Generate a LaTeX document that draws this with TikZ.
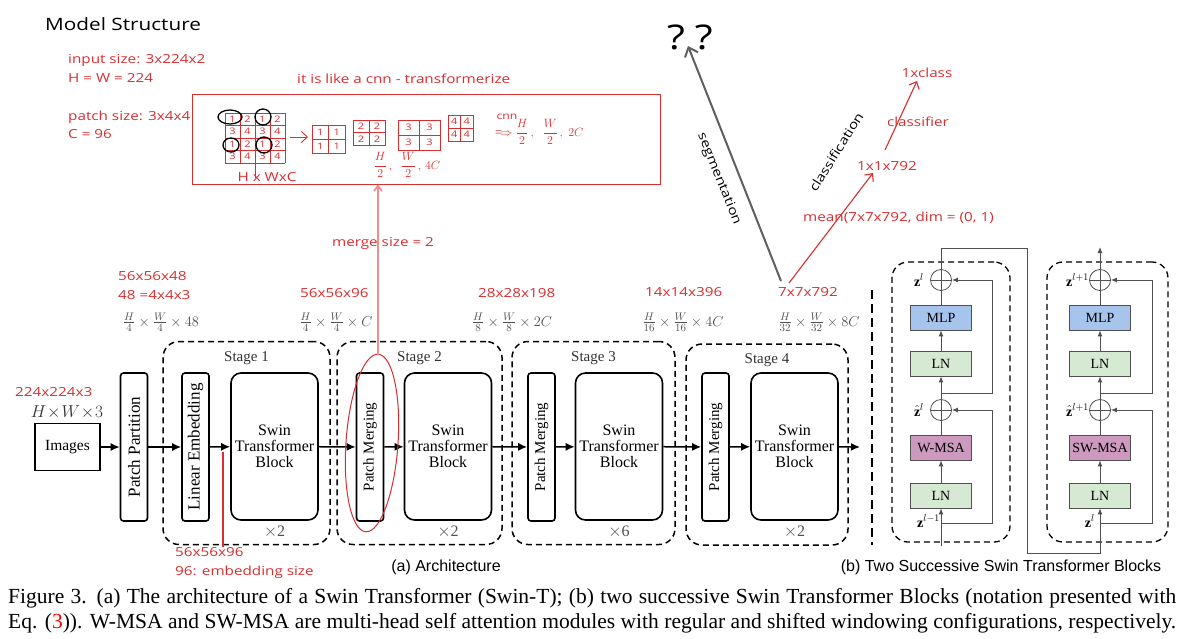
\documentclass[tikz,border=0pt]{standalone}
\usepackage{amsmath}
\usepackage{fontspec}
\setmainfont{Liberation Serif}
\newfontfamily\handfont{Open Sans}[FakeStretch=1.22]
\newfontfamily\arialfont{Liberation Sans}
\usepackage{color}
\usepackage{graphicx}
\usepackage{tikz}
\usetikzlibrary{arrows.meta,positioning}

\definecolor{pen}{RGB}{216,46,48}
\definecolor{pale}{RGB}{236,140,140}
\definecolor{mlpblue}{RGB}{167,196,236}
\definecolor{lngreen}{RGB}{214,233,211}
\definecolor{msapink}{RGB}{205,153,190}
\definecolor{dimgray}{RGB}{80,80,80}
\definecolor{seggray}{RGB}{95,95,95}

\newcommand{\fsz}[1]{\fontsize{#1}{#1}\selectfont}

\tikzset{
  tall/.style={draw, line width=1.6pt, rounded corners=3pt, minimum width=27pt, minimum height=148pt, inner sep=0pt},
  swin/.style={draw, line width=1.6pt, rounded corners=10pt, minimum width=87pt, minimum height=147pt, align=center, font=\fsz{16}},
  stage/.style={draw, line width=1.5pt, dash pattern=on 6pt off 4pt, rounded corners=16pt},
  arr/.style={line width=1.5pt, -{Latex[length=9pt,width=8pt]}},
  hand/.style={text=pen, font={\handfont\fsz{12.5}}, inner sep=0pt},
  note/.style={pen, line width=0.9pt},
  barb/.style={-{Straight Barb[length=6pt,width=11pt]}},
  dims/.style={text=dimgray, font=\fsz{15}, inner sep=0pt},
  sub/.style={draw=dimgray, line width=0.8pt, minimum width=61pt, minimum height=25pt, inner sep=0pt, font=\fsz{14}},
  oplus/.style={circle, draw=dimgray, line width=0.8pt, minimum size=21pt, inner sep=0pt,
    path picture={\draw[dimgray, line width=0.8pt] (path picture bounding box.north) -- (path picture bounding box.south) (path picture bounding box.west) -- (path picture bounding box.east);}},
  flow/.style={dimgray, line width=0.9pt},
  tip/.style={flow, -{Latex[length=6pt,width=5pt]}},
  zlab/.style={font=\fsz{14}, inner sep=0pt},
}

\begin{document}
\begin{tikzpicture}[x=1pt,y=-1pt]
\useasboundingbox (0,0) rectangle (1191,638);
\fill[white] (0,0) rectangle (1191,638);

% (a) architecture
\node[draw, line width=1.6pt, minimum width=65pt, minimum height=47pt, font=\fsz{15.5}] (img) at (67.5,447) {Images};
\node[tall, font=\fsz{17}] (pp) at (134,447) {\rotatebox{90}{Patch Partition}};

\node[stage, minimum width=167pt, minimum height=203pt] (st1) at (246.5,443) {};
\node[stage, minimum width=165pt, minimum height=203pt] (st2) at (419.5,443) {};
\node[stage, minimum width=163pt, minimum height=203pt] (st3) at (593.5,443) {};
\node[stage, minimum width=162pt, minimum height=201pt] (st4) at (767,444.5) {};

\node[tall, font=\fsz{17}] (le) at (195.5,447) {\rotatebox{90}{Linear Embedding}};
\node[swin] (sw1) at (274.5,446.5) {Swin\\Transformer\\Block};
\node[tall, font=\fsz{15}] (pm2) at (370,447) {\rotatebox{90}{Patch Merging}};
\node[swin] (sw2) at (448,446.5) {Swin\\Transformer\\Block};
\node[tall, font=\fsz{15}] (pm3) at (541.5,447) {\rotatebox{90}{Patch Merging}};
\node[swin] (sw3) at (619,446.5) {Swin\\Transformer\\Block};
\node[tall, font=\fsz{15}] (pm4) at (715.5,447) {\rotatebox{90}{Patch Merging}};
\node[swin] (sw4) at (794.5,446.5) {Swin\\Transformer\\Block};
\coordinate (out) at (860,447);

\foreach \a/\b in {img/pp, pp/le, le/sw1, sw1/pm2, pm2/sw2, sw2/pm3, pm3/sw3, sw3/pm4, pm4/sw4, sw4/out}
  \draw[arr] (\a) -- (\b);

% stage titles and repeats
\foreach \s/\b/\n/\r in {st1/sw1/1/2, st2/sw2/2/2, st3/sw3/3/6, st4/sw4/4/2} {
  \node[font=\fsz{15}, text=black!80, below=7pt of \s.north] (title\n) {Stage \n};
  \node[font=\fsz{16}, text=dimgray, below=2pt of \b.south] (rep\n) {$\times$\r};
}

% sizes
\node[dims, font=\fsz{17}, text=black!80] (d0) at (67,412) {$H\!\times\! W\!\times\! 3$};
\node[dims] (d1) at (161,322) {$\frac{H}{4}\times\frac{W}{4}\times 48$};
\node[dims] (d2) at (336,322) {$\frac{H}{4}\times\frac{W}{4}\times C$};
\node[dims] (d3) at (512,322) {$\frac{H}{8}\times\frac{W}{8}\times 2C$};
\node[dims] (d4) at (683,322) {$\frac{H}{16}\times\frac{W}{16}\times 4C$};
\node[dims] (d5) at (819,322) {$\frac{H}{32}\times\frac{W}{32}\times 8C$};

\draw[line width=2.6pt, dash pattern=on 9pt off 5pt] (872,290) -- (872,545);

\node[font=\arialfont\fsz{16}] (capa) at (446,567) {(a) Architecture};
\node[font=\arialfont\fsz{16}] (capb) at (1001,567) {(b) Two Successive Swin Transformer Blocks};

% (b) two successive blocks
\node[stage, line width=1.3pt, minimum width=118pt, minimum height=280pt] (bA) at (951,402) {};
\node[stage, line width=1.3pt, minimum width=121pt, minimum height=280pt] (bB) at (1107.5,402) {};

\node[sub, fill=lngreen] (lnA1) at (941,495.5) {LN};
\node[sub, fill=msapink] (msaA) at (941,447.5) {W-MSA};
\node[oplus] (addA1) at (941,410) {};
\node[sub, fill=lngreen] (lnA2) at (941,363.5) {LN};
\node[sub, fill=mlpblue] (mlpA) at (941,317.5) {MLP};
\node[oplus] (addA2) at (941,280) {};

\node[sub, fill=lngreen] (lnB1) at (1100,495.5) {LN};
\node[sub, fill=msapink] (msaB) at (1100,447.5) {SW-MSA};
\node[oplus] (addB1) at (1100,410) {};
\node[sub, fill=lngreen] (lnB2) at (1100,363.5) {LN};
\node[sub, fill=mlpblue] (mlpB) at (1100,317.5) {MLP};
\node[oplus] (addB2) at (1100,280) {};

\coordinate (inA) at (941,546);
\coordinate (rA1) at (941,523);
\coordinate (rA2) at (941,393);
\coordinate (rB1) at (1100,523);
\coordinate (rB2) at (1100,393);
\coordinate (outB) at (1100,247);

\draw[tip] (inA) -- (lnA1);
\draw[tip] (lnA1) -- (msaA);
\draw[flow] (msaA) -- (addA1);
\draw[tip] (addA1) -- (lnA2);
\draw[tip] (lnA2) -- (mlpA);
\draw[flow] (mlpA) -- (addA2);
\draw[tip] (rA1) -- ++(51,0) |- (addA1);
\draw[tip] (rA2) -- ++(51,0) |- (addA2);
\draw[tip] (addA2) |- (1027,248) |- (1100,553) -- (lnB1);

\draw[tip] (lnB1) -- (msaB);
\draw[flow] (msaB) -- (addB1);
\draw[tip] (addB1) -- (lnB2);
\draw[tip] (lnB2) -- (mlpB);
\draw[flow] (mlpB) -- (addB2);
\draw[tip] (rB1) -- ++(52,0) |- (addB1);
\draw[tip] (rB2) -- ++(52,0) |- (addB2);
\draw[tip] (addB2) -- (outB);

\node[zlab, left=6pt of addA2] (zA2) {$\mathbf{z}^{l}$};
\node[zlab, left=6pt of addA1] (zA1) {$\hat{\mathbf{z}}^{l}$};
\node[zlab, anchor=east] (zA0) at (940,521) {$\mathbf{z}^{l-1}$};
\node[zlab, left=0pt of addB2] (zB2) {$\mathbf{z}^{l+1}$};
\node[zlab, left=0pt of addB1] (zB1) {$\hat{\mathbf{z}}^{l+1}$};
\node[zlab, anchor=east] (zB0) at (1095,521) {$\mathbf{z}^{l}$};

% handwritten notes
\node[font={\handfont\fsz{17}}, anchor=west, inner sep=0pt] (head) at (45,24) {Model Structure};
\node[hand, anchor=west] (insz) at (68,60) {input size: 3x224x2};
\node[hand, anchor=west] (hw) at (68,78) {H = W = 224};
\node[hand, anchor=west] (psz) at (68,117) {patch size: 3x4x4};
\node[hand, anchor=west] (cc) at (68,134) {C = 96};
\node[hand, anchor=west] (like) at (297,79) {it is like a cnn - transformerize};
\node[draw=pen, line width=0.9pt, minimum width=468pt, minimum height=90pt, inner sep=0pt] (sketch) at (426,139) {};

% 4x4 patches
\foreach \i in {0,...,4} {
  \draw[note] (225+15*\i,113) -- (225+15*\i,163);
  \draw[note] (225,113+12.5*\i) -- (285,113+12.5*\i);
}
\draw[note] (255,163) -- (255,178);
\foreach \r in {0,...,3}
  \foreach \c in {0,...,3} {
    \pgfmathtruncatemacro\n{1+mod(\c,2)+2*mod(\r,2)}
    \node[hand, font={\handfont\fsz{9}}] (g\r\c) at (232.5+15*\c,119.25+12.5*\r) {\n};
  }
\draw[line width=1.3pt] (230,117) ellipse [x radius=12pt, y radius=7pt];
\draw[line width=1.3pt] (263,117) ellipse [x radius=8pt, y radius=8pt];
\draw[line width=1.3pt] (231,145) ellipse [x radius=8pt, y radius=7pt];
\draw[line width=1.3pt] (264,145) ellipse [x radius=8pt, y radius=8pt];
\node[hand] (hwc) at (267,177) {H x WxC};
\draw[note, barb] (290,137) -- (308,137);

% merged 2x2 groups
\foreach \x/\y/\w/\h/\n in {312/125/33/28/1, 353/120/32/25/2, 398/120/42/30/3, 448/115/25/26/4} {
  \draw[note] (\x,\y) rectangle ++(\w,\h);
  \draw[note] (\x+\w/2,\y) -- ++(0,\h) (\x,\y+\h/2) -- ++(\w,0);
  \foreach \i/\j in {1/1,3/1,1/3,3/3}
    \node[hand, font={\handfont\fsz{9}}] (m\n\i\j) at (\x+\w*\i/4,\y+\h*\j/4) {\n};
}
\node[text=pen, font=\fsz{12.5}] (half4) at (407,165) {$\dfrac{H}{2}\,,\;\;\dfrac{W}{2}\,,\,4C$};
\node[hand, font={\handfont\fsz{10}}] (cnn) at (507,117) {cnn};
\node[text=pen, font=\fsz{12.5}, anchor=west, inner sep=0pt] (half2) at (495,132) {$\Longrightarrow\dfrac{H}{2}\,,\;\;\dfrac{W}{2}\,,\;2C$};

% patch merging note
\draw[pen, line width=1pt, rotate around={-4:(372,443)}] (372,443) ellipse [x radius=26pt, y radius=89pt];
\coordinate (mtop) at (378,355);
\draw[pale, line width=1.8pt, -{Straight Barb[length=5pt,width=8pt]}] (mtop) -- (mtop |- sketch.south);
\node[hand] (msz) at (383,243) {merge size = 2};

% red sizes
\node[hand, anchor=west] (r0) at (15,392) {224x224x3};
\node[hand, anchor=west] (r1) at (118,276) {56x56x48};
\node[hand, anchor=west] (r1b) at (118,295) {48 =4x4x3};
\node[hand, anchor=west] (r2) at (300,293) {56x56x96};
\node[hand, anchor=west] (r3) at (478,293) {28x28x198};
\node[hand, anchor=west] (r4) at (645,292) {14x14x396};
\node[hand, anchor=west] (r5) at (778,292) {7x7x792};
\node[hand, anchor=west] (emb) at (175,552) {56x56x96};
\node[hand, anchor=west] (embsz) at (175,572) {96: embedding size};
\coordinate (embtop) at (223,452);
\draw[note, line width=1.2pt] (embtop) -- (embtop |- emb.north);

% heads
\node[font={\handfont\fsz{34}}, inner sep=0pt, anchor=south] (qq) at (690,50) {?\hspace{10pt}?};
\coordinate (segfrom) at (781,281);
\draw[seggray, line width=2pt, -{Straight Barb[length=8pt,width=14pt]}] (segfrom) -- ([xshift=-2pt,yshift=4pt]qq.south);
\node[font={\handfont\fsz{12.5}}, rotate=-68] (seglbl) at (719,179) {segmentation};
\node[font={\handfont\fsz{12.5}}, rotate=58] (clslbl) at (836,152) {classification};

\node[hand, anchor=west] (mean) at (803,218) {mean(7x7x792, dim = (0, 1)};
\node[hand] (vec) at (887,166) {1x1x792};
\node[hand] (clf) at (918,122) {classifier};
\node[hand] (cls) at (927,73) {1xclass};
\coordinate (c7) at (789,283);
\coordinate (cv) at (885,150);
\draw[note, line width=1.1pt, barb] (c7) -- (873,173);
\draw[note, line width=1.1pt, barb] (cv) -- ([xshift=-10pt,yshift=-3pt]cls.south);

% caption
\node[anchor=base west, inner sep=0pt, font=\fsz{21.5}] (cap1) at (8,603)
  {\makebox[1168pt][s]{Figure 3. (a) The architecture of a Swin Transformer (Swin-T); (b) two successive Swin Transformer Blocks (notation presented with}};
\node[anchor=base west, inner sep=0pt, font=\fsz{21.5}] (cap2) at (8,628)
  {\makebox[1168pt][s]{Eq. (\textcolor{red}{3})). W-MSA and SW-MSA are multi-head self attention modules with regular and shifted windowing configurations, respectively.}};
\end{tikzpicture}
\end{document}
